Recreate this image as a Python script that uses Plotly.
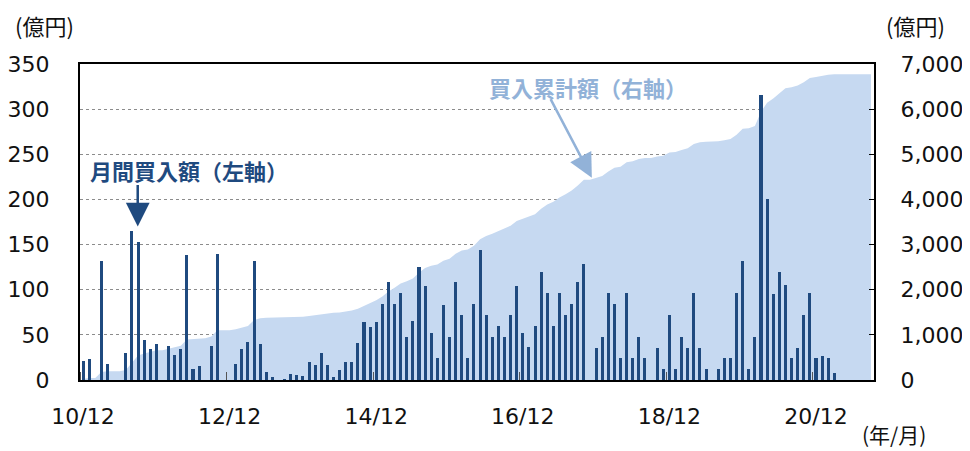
import plotly.graph_objects as go

# Months from 2010/12 to 2021/09 (index 0 = 2010/12)
n_months = 130
month_index = list(range(n_months))

tick_positions = [0, 24, 48, 72, 96, 120]
tick_labels = ["10/12", "12/12", "14/12", "16/12", "18/12", "20/12"]
tick_boundaries = [-0.5, 23.5, 47.5, 71.5, 95.5, 119.5]

# Monthly purchase amount (100 million yen, left axis)
monthly = [
    21, 23, 0, 132, 18, 0, 0, 30, 165, 153, 44, 34,
    40, 0, 38, 28, 34, 138, 12, 16, 0, 38, 140, 0,
    0, 18, 34, 42, 132, 40, 9, 3, 0, 1, 7, 6,
    4, 20, 17, 30, 17, 3, 11, 20, 20, 41, 64, 59,
    64, 84, 108, 84, 96, 48, 65, 125, 104, 52, 24, 83,
    48, 108, 72, 24, 84, 144, 72, 48, 60, 48, 72, 104,
    52, 37, 60, 120, 96, 60, 96, 72, 84, 108, 129, 0,
    36, 48, 96, 84, 24, 96, 24, 48, 24, 0, 36, 12,
    72, 12, 48, 36, 96, 36, 12, 0, 12, 24, 24, 96,
    132, 12, 48, 316, 200, 95, 120, 105, 24, 36, 72, 96,
    24, 27, 24, 8, 0, 0, 0, 0, 0, 0,
]

# Cumulative purchase amount (100 million yen, right axis)
cumulative = [
    21, 44, 44, 176, 194, 194, 194, 224, 389, 542, 586, 620,
    660, 660, 698, 726, 760, 898, 910, 926, 926, 964, 1104, 1104,
    1104, 1122, 1156, 1198, 1330, 1370, 1379, 1382, 1382, 1383, 1390, 1396,
    1400, 1420, 1437, 1467, 1484, 1487, 1498, 1518, 1538, 1579, 1643, 1702,
    1766, 1850, 1958, 2042, 2138, 2186, 2251, 2376, 2480, 2532, 2556, 2639,
    2687, 2795, 2867, 2891, 2975, 3119, 3191, 3239, 3299, 3347, 3419, 3523,
    3575, 3612, 3672, 3792, 3888, 3948, 4044, 4116, 4200, 4308, 4437, 4437,
    4473, 4521, 4617, 4701, 4725, 4821, 4845, 4893, 4917, 4917, 4953, 4965,
    5037, 5049, 5097, 5133, 5229, 5265, 5277, 5277, 5289, 5313, 5337, 5433,
    5565, 5577, 5625, 5941, 6141, 6236, 6356, 6461, 6485, 6521, 6593, 6689,
    6713, 6740, 6764, 6772, 6772, 6772, 6772, 6772, 6772, 6772,
]

NAVY = "#1f4a7f"
AREA = "#c6d9f1"
LIGHT = "#92b2d8"
NUM_FONT = "DejaVu Sans"
CJK_FONT = "Noto Sans CJK JP"

fig = go.Figure()

fig.add_trace(go.Scatter(
    x=month_index, y=cumulative, yaxis="y", mode="lines",
    line=dict(width=0, color=AREA), fill="tozeroy", fillcolor=AREA,
    hoverinfo="skip", showlegend=False,
))

fig.add_trace(go.Bar(
    x=month_index, y=monthly, yaxis="y2", width=0.5,
    marker=dict(color=NAVY, line=dict(width=0)), showlegend=False,
))

# The page places the figure 8px from the top-left corner, so the figure is
# sized and margined to keep the plot area at the reference position.
fig.update_layout(
    width=962, height=443,
    margin=dict(l=72, r=96, t=56, b=71),
    paper_bgcolor="white", plot_bgcolor="white",
    font=dict(family=NUM_FONT, size=22, color="#111"),
    bargap=0,
    xaxis=dict(
        range=[-0.5, n_months - 0.5], automargin=False,
        tickmode="array", tickvals=tick_positions, ticktext=tick_labels,
        ticks="", showgrid=False, zeroline=False,
        showline=True, linecolor="black", linewidth=2, mirror=True,
        ticklabelstandoff=16,
        minor=dict(tickmode="array", tickvals=tick_boundaries, ticks="inside",
                   ticklen=8, tickwidth=1, tickcolor="#555", showgrid=False),
    ),
    yaxis=dict(
        side="right", range=[0, 7000], tickmode="array", automargin=False,
        tickvals=[0, 1000, 2000, 3000, 4000, 5000, 6000, 7000],
        tickformat=",d",
        ticks="inside", ticklen=5, tickcolor="black", tickwidth=1,
        showgrid=True, gridcolor="#8c8c8c", griddash="dot", gridwidth=1,
        zeroline=False, showline=True, linecolor="black", linewidth=2,
        ticklabelstandoff=20,
    ),
    yaxis2=dict(
        overlaying="y", side="left", range=[0, 350], automargin=False,
        tickmode="array", tickvals=[0, 50, 100, 150, 200, 250, 300, 350],
        ticks="", showgrid=False, zeroline=False,
        showline=True, linecolor="black", linewidth=2,
        ticklabelstandoff=24,
    ),
    annotations=[
        dict(text="(億円)", xref="paper", yref="paper", x=-0.083, y=1.124,
             xanchor="left", yanchor="middle", showarrow=False, borderpad=0,
             font=dict(family=CJK_FONT, size=22, color="#111")),
        dict(text="(億円)", xref="paper", yref="paper", x=1.014, y=1.124,
             xanchor="left", yanchor="middle", showarrow=False, borderpad=0,
             font=dict(family=CJK_FONT, size=22, color="#111")),
        dict(text="(年/月)", xref="paper", yref="paper", x=1.067, y=-0.172,
             xanchor="right", yanchor="middle", showarrow=False, borderpad=0,
             font=dict(family=CJK_FONT, size=21, color="#111")),
        dict(text="<b>月間買入額（左軸）</b>", xref="paper", yref="paper",
             x=0.01, y=0.665, xanchor="left", yanchor="middle", showarrow=False,
             font=dict(family=CJK_FONT, size=22, color=NAVY)),
        dict(text="", xref="x", yref="y2", x=8.95, y=170,
             ax=0, ay=-43, showarrow=True, arrowhead=2, arrowsize=1.9,
             arrowwidth=2.5, arrowcolor=NAVY),
        dict(text="<b>買入累計額（右軸）</b>", xref="paper", yref="paper",
             x=0.5126, y=0.927, xanchor="left", yanchor="middle", showarrow=False,
             font=dict(family=CJK_FONT, size=22, color=LIGHT)),
        dict(text="", xref="x", yref="y", x=83.3, y=4482,
             ax=-42, ay=-80, showarrow=True, arrowhead=2, arrowsize=1.9,
             arrowwidth=2.5, arrowcolor=LIGHT),
    ],
)

fig.write_html("out.html")
